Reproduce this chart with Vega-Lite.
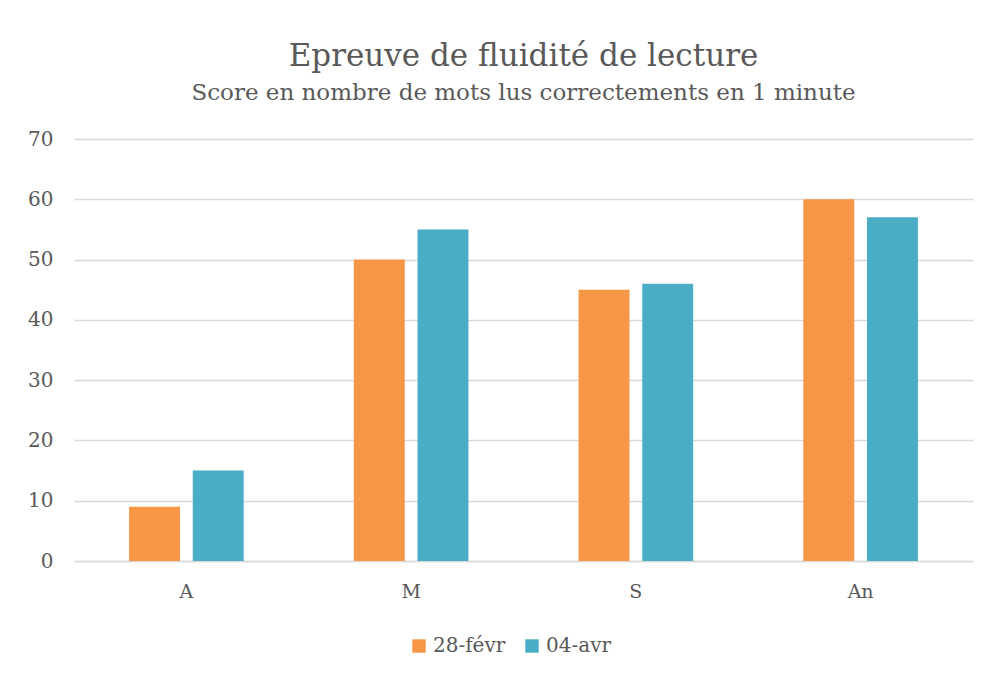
{
  "$schema": "https://vega.github.io/schema/vega-lite/v6.json",
  "width": 899,
  "height": 422,
  "autosize": {"type": "none"},
  "padding": {"left": 74, "top": 139, "right": 17, "bottom": 115},
  "background": "white",
  "title": {
    "text": "Epreuve de fluidité de lecture",
    "subtitle": "Score en nombre de mots lus correctements en 1 minute",
    "anchor": "middle",
    "font": "DejaVu Serif",
    "fontSize": 31,
    "fontWeight": "normal",
    "color": "#595959",
    "subtitleFont": "DejaVu Serif",
    "subtitleFontSize": 23,
    "subtitleColor": "#595959",
    "subtitlePadding": 9,
    "offset": 23
  },
  "data": {
    "values": [
      {"eleve": "A", "date": "28-févr", "score": 9},
      {"eleve": "A", "date": "04-avr", "score": 15},
      {"eleve": "M", "date": "28-févr", "score": 50},
      {"eleve": "M", "date": "04-avr", "score": 55},
      {"eleve": "S", "date": "28-févr", "score": 45},
      {"eleve": "S", "date": "04-avr", "score": 46},
      {"eleve": "An", "date": "28-févr", "score": 60},
      {"eleve": "An", "date": "04-avr", "score": 57}
    ]
  },
  "mark": {"type": "bar"},
  "encoding": {
    "x": {
      "field": "eleve",
      "type": "nominal",
      "sort": ["A", "M", "S", "An"],
      "scale": {"paddingInner": 0.49, "paddingOuter": 0.245},
      "axis": {"title": null, "labelAngle": 0, "labelFont": "DejaVu Serif", "labelFontSize": 19, "labelColor": "#595959", "labelPadding": 21, "ticks": false, "domainColor": "#d9d9d9", "domainWidth": 1.5}
    },
    "xOffset": {"field": "date", "type": "nominal", "sort": ["28-févr", "04-avr"], "scale": {"paddingInner": 0.2}},
    "y": {
      "field": "score",
      "type": "quantitative",
      "scale": {"domain": [0, 70]},
      "axis": {"title": null, "values": [0, 10, 20, 30, 40, 50, 60, 70], "labelFont": "DejaVu Serif", "labelFontSize": 20, "labelColor": "#595959", "labelPadding": 21, "ticks": false, "domain": false, "gridColor": "#d9d9d9", "gridWidth": 1.5}
    },
    "color": {
      "field": "date",
      "type": "nominal",
      "sort": ["28-févr", "04-avr"],
      "scale": {"domain": ["28-févr", "04-avr"], "range": ["#F79646", "#4BACC6"]},
      "legend": {"title": null, "orient": "none", "legendX": 335, "legendY": 497, "direction": "horizontal", "symbolType": "square", "symbolSize": 180, "symbolStrokeWidth": 0, "labelFont": "DejaVu Serif", "labelFontSize": 20, "labelColor": "#595959", "columnPadding": 16, "labelOffset": 4}
    }
  },
  "config": {"view": {"stroke": null}}
}
